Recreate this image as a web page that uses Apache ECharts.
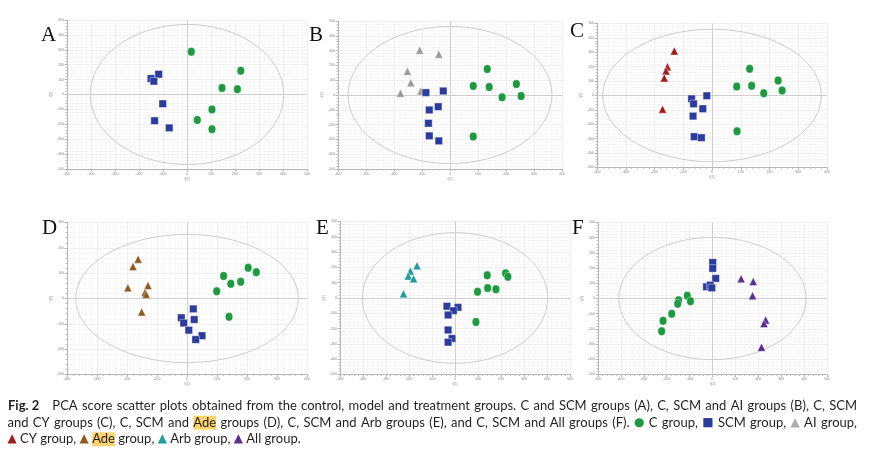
<!DOCTYPE html>
<html><head><meta charset="utf-8">
<script src="https://cdn.jsdelivr.net/npm/echarts@6/dist/echarts.min.js"></script>
<style>html,body{margin:0;padding:0;background:#fff}#c{width:869px;height:453px}</style>
</head><body><div id="c"></div>
<script>
// ---- data (score units, 10 per tick) ----
const A_C   = [[1.8,28.7],[22.4,16],[14.6,4.4],[21,3.6],[10.4,-10],[4.3,-17.1],[10.4,-23.3]];
const A_SCM = [[-11.8,13.6],[-15,10.7],[-13.8,8.9],[-10.1,-6.2],[-13.5,-17.6],[-7.4,-22.4]];

const B_C   = [[13.3,17.5],[8.3,6.1],[14.0,5.4],[18.6,-1.6],[23.7,7.4],[25.4,-0.7],[8.3,-28.1]];
const B_SCM = [[-8.6,1.6],[-2.4,2.7],[-7.4,-10.1],[-4.2,-7.9],[-7.7,-19.1],[-7.4,-27.6],[-4.0,-31]];
const B_AI  = [[-10.8,30.3],[-4.0,27.6],[-15.2,16],[-14.0,8.3],[-17.7,1.1],[-10.4,2.7]];

const C_C   = [[13.1,18.5],[8.6,6.2],[13.8,6.7],[18,1.6],[23,10.4],[24.4,3.5],[8.7,-24.9]];
const C_SCM = [[-7.1,-2.3],[-6.4,-5.8],[-1.8,-0.2],[-3.2,-9.2],[-6.6,-14.3],[-6.2,-28.6],[-3.7,-29.3]];
const C_CY  = [[-13.1,30.9],[-15.5,19.9],[-16,17.1],[-16.6,12.2],[-17.2,-9.5]];

const D_C   = [[9.9,2.9],[12.2,8.9],[14.6,5.8],[17.9,6.6],[20.4,12.1],[23.1,10.4],[14,-7.2]];
const D_SCM = [[2.1,-4.1],[-1.9,-7.6],[2.4,-8.3],[-1.1,-9.7],[0.6,-12.5],[5,-14.7],[2.9,-16.2]];
const D_Ade = [[-16.3,15.5],[-18,12.6],[-19.7,4.2],[-13,5.1],[-14,2.4],[-13.6,1.6],[-15.1,-5.3]];

const E_C   = [[14,14.8],[22,16.1],[23,13.9],[9.8,4.1],[14.2,6.5],[17.8,5.7],[9.1,-15.7]];
const E_SCM = [[-3.5,-5.4],[1.3,-6.1],[-0.7,-8.3],[-3,-11.1],[-3,-20.9],[-1.3,-26.5],[-3,-28.9]];
const E_Arb = [[-16.5,21.1],[-19.4,17.6],[-20.3,14.3],[-18,12.6],[-22.4,2.8]];

const F_C   = [[-11,1.8],[-9.6,-1.8],[-14.8,-1.1],[-15.2,-3.5],[-17.8,-10.1],[-21.6,-14.7],[-22.2,-21.5]];
const F_SCM = [[0.1,23.7],[0.1,19.8],[1.4,13.2],[-2.6,7.7],[-1,8.8],[-0.3,7]];
const F_All = [[12.5,13],[17.8,11.2],[17.5,1.8],[23.2,-14.1],[22.5,-16.5],[21.4,-32.1]];

// Hotelling ellipse radii [rx, ry] per panel
const ellipseRadii = [[40.3,47],[36.4,46.3],[38,46],[37.1,25.3],[40.3,42.7],[40.9,40.2]];
// axis extents per panel [xmax, ymax]
const axisExtent = [[50,50],[40,50],[40,50],[40,30],[50,50],[50,50]];
const panelLabels = ['A','B','C','D','E','F'];
const captionLines = [
  'Fig.\u00a02 PCA score scatter plots obtained from the control, model and treatment groups. C and SCM groups (A), C, SCM and AI groups (B), C, SCM',
  'and CY groups (C), C, SCM and Ade groups (D), C, SCM and Arb groups (E), and C, SCM and All groups (F). \u25CF C group, \u25A0 SCM group, \u25B2 AI group,',
  '\u25B2 CY group, \u25B2 Ade group, \u25B2 Arb group, \u25B2 All group.'
];

// ---- styling / layout ----
const groupStyle = {
  C:   {symbol:'circle',   size:[7.5,8.5], color:'#1d9a3f'},
  SCM: {symbol:'rect',     size:7.5, color:'#2c3c9c'},
  AI:  {symbol:'triangle', size:8,   color:'#9b9b9b'},
  CY:  {symbol:'triangle', size:8,   color:'#a11d1d'},
  Ade: {symbol:'triangle', size:8,   color:'#8d5b22'},
  Arb: {symbol:'triangle', size:8,   color:'#1f9c9c'},
  All: {symbol:'triangle', size:8,   color:'#5c2c90'}
};
const markerColors = ['#1d9a3f','#2c3c9c','#aaaaaa','#a11d1d','#8d5b22','#1f9c9c','#5c2c90'];
const panelGroups = [
  [['C',A_C],['SCM',A_SCM]],
  [['AI',B_AI],['SCM',B_SCM],['C',B_C]],
  [['CY',C_CY],['SCM',C_SCM],['C',C_C]],
  [['Ade',D_Ade],['SCM',D_SCM],['C',D_C]],
  [['Arb',E_Arb],['SCM',E_SCM],['C',E_C]],
  [['SCM',F_SCM],['C',F_C],['All',F_All]]
];
const grids = [
  {left:67, top:20,  width:240, height:149},
  {left:338,top:21,  width:224, height:148},
  {left:597,top:23.5,width:230, height:144},
  {left:67, top:222.5,width:240,height:152},
  {left:340,top:221.5,width:230,height:153},
  {left:598,top:222.5,width:229,height:152}
];
const labelPos = [[41,25],[309,25],[570,21],[42,218],[316,218],[572,218]];

const xAxes=[], yAxes=[], series=[], graphics=[];
grids.forEach((g,i)=>{
  const [xm,ym] = axisExtent[i];
  const common = {
    axisLine:{onZero:false, lineStyle:{color:'#b5b5b5', width:1}},
    axisTick:{show:true, length:2.5, lineStyle:{color:'#b5b5b5'}},
    minorTick:{show:true, splitNumber:5, length:1.5, lineStyle:{color:'#c5c5c5'}},
    splitLine:{show:true, lineStyle:{color:'#efefef', width:1}},
    minorSplitLine:{show:true, lineStyle:{color:'#f7f7f7', width:1}},
    axisLabel:{fontSize:3.5, color:'#888', margin:3, formatter:v=>String(v*10)},
    nameTextStyle:{fontSize:3.5, color:'#888'}
  };
  xAxes.push(Object.assign({gridIndex:i, type:'value', min:-xm, max:xm, interval:10,
    name:'t[1]', nameLocation:'middle', nameGap:8}, common));
  yAxes.push(Object.assign({gridIndex:i, type:'value', min:-ym, max:ym, interval:10,
    name:'t[2]', nameLocation:'middle', nameGap:9}, common));
  // ellipse
  series.push({
    type:'custom', xAxisIndex:i, yAxisIndex:i, silent:true, clip:false, z:1,
    data:[[0,0,ellipseRadii[i][0],ellipseRadii[i][1]]],
    encode:{x:0,y:1},
    renderItem:(params, api)=>{
      const cx=api.value(0), cy=api.value(1), rx=api.value(2), ry=api.value(3);
      const pts=[];
      for(let k=0;k<=120;k++){const t=k/120*Math.PI*2; pts.push(api.coord([cx+rx*Math.cos(t), cy+ry*Math.sin(t)]));}
      return {type:'polyline', shape:{points:pts}, style:{fill:null, stroke:'#cdcdcd', lineWidth:1}};
    }
  });
  // zero lines
  series.push({
    type:'scatter', xAxisIndex:i, yAxisIndex:i, data:[], silent:true,
    markLine:{silent:true, symbol:'none', label:{show:false}, animation:false,
      lineStyle:{color:'#cfcfcf', type:'solid', width:1},
      data:[{xAxis:0},{yAxis:0}]}
  });
  panelGroups[i].forEach(([gname,data])=>{
    const s = groupStyle[gname];
    series.push({
      type:'scatter', name:gname, xAxisIndex:i, yAxisIndex:i, data:data, z:5,
      symbol:s.symbol, symbolSize:s.size,
      itemStyle:{color:s.color, borderColor:'rgba(255,255,255,0.55)', borderWidth:0.7, opacity:1}
    });
  });
  graphics.push({type:'text', left:labelPos[i][0], top:labelPos[i][1],
    style:{text:panelLabels[i], font:'21px "Liberation Serif", "Times New Roman", serif', fill:'#111'}});
});

// ---- caption: justified lines built from word tokens ----
const capFont = '13px Lato, "Noto Sans", sans-serif';
const capBold = 'bold 13px Lato, "Noto Sans", sans-serif';
const mkFont  = '12px "DejaVu Sans", sans-serif';
const cv = document.createElement('canvas').getContext('2d');
const lineY = [406, 422.7, 439.3];
const lineX0 = [8, 7.5, 7.5];
const lineX1 = [857, 857, null];
let markerIdx = 0;
captionLines.forEach((line, li)=>{
  const toks = line.split(' ').map(w=>{
    const tk = {text:w, font:capFont, fill:'#231f20'};
    if(w.indexOf('Fig.')===0){tk.font=capBold; tk.gapAfter=3;}
    if(w==='Ade'){tk.bg='#fcd36c';}
    if(w==='\u25CF'||w==='\u25A0'||w==='\u25B2'){tk.fill=markerColors[markerIdx++]; tk.font=mkFont; tk.marker=true;}
    cv.font = tk.font; tk.w = cv.measureText(w.replace('\u00a0',' ')).width;
    return tk;
  });
  cv.font = capFont; const sp = cv.measureText(' ').width;
  let weights = 0, natural = 0;
  toks.forEach((t,k)=>{natural += t.w; if(k<toks.length-1){const wgt=t.gapAfter||1; weights+=wgt; natural+=sp*wgt;}});
  const extra = lineX1[li] ? (lineX1[li]-lineX0[li]-natural)/weights : 0;
  let x = lineX0[li];
  toks.forEach((t,k)=>{
    const st = {text:t.text, font:t.font, fill:t.fill, textVerticalAlign:'middle', verticalAlign:'middle'};
    if(t.bg){st.backgroundColor=t.bg; st.padding=[1,0,0,0];}
    graphics.push({type:'text', x:x, y:lineY[li], style:st, z:10});
    const wgt=t.gapAfter||1;
    x += t.w + (sp+extra)*wgt;
  });
});

const chart = echarts.init(document.getElementById('c'));
chart.setOption({
  animation:false,
  backgroundColor:'#fff',
  grid:grids.map(g=>Object.assign({containLabel:false},g)),
  xAxis:xAxes, yAxis:yAxes, series:series, graphic:graphics
});
</script></body></html>
